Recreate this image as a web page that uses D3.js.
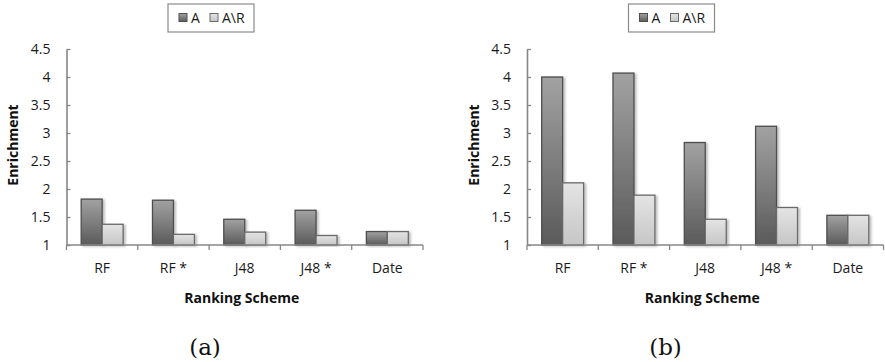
<!DOCTYPE html>
<html>
<head>
<meta charset="utf-8">
<script src="https://cdn.jsdelivr.net/npm/d3@7"></script>
<style>
  html, body { margin: 0; padding: 0; background: #fff; }
  svg { display: block; }
  .tick-label { font-family: "Open Sans", Lato, sans-serif; font-size: 14px; fill: #1a1a1a; }
  .axis-title { font-family: "Open Sans", Lato, sans-serif; font-size: 14px; font-weight: bold; fill: #111; }
  .caption { font-family: "DejaVu Serif", "Liberation Serif", serif; font-size: 23px; fill: #111; }
</style>
</head>
<body>
<svg id="chart" width="885" height="362"></svg>
<script>
// Ranking schemes on the x axis and the two series shown in each panel
const categories = ["RF", "RF *", "J48", "J48 *", "Date"];
const seriesNames = ["A", "A\\R"];

// Panel (a): enrichment values
const panelA_A  = [1.82, 1.80, 1.46, 1.62, 1.24];
const panelA_AR = [1.37, 1.19, 1.23, 1.17, 1.24];

// Panel (b): enrichment values
const panelB_A  = [4.00, 4.07, 2.83, 3.12, 1.53];
const panelB_AR = [2.11, 1.89, 1.46, 1.67, 1.53];

const yTicks = [1, 1.5, 2, 2.5, 3, 3.5, 4, 4.5];
const yTickLabels = ["1", "1.5", "2", "2.5", "3", "3.5", "4", "4.5"];
const captions = ["(a)", "(b)"];
const xTitle = "Ranking Scheme";
const yTitle = "Enrichment";

const svg = d3.select("#chart");
const defs = svg.append("defs");

// Vertical gradients for the two bar fills
const gradDark = defs.append("linearGradient").attr("id", "gDark")
  .attr("x1", 0).attr("y1", 0).attr("x2", 0).attr("y2", 1);
gradDark.append("stop").attr("offset", "0%").attr("stop-color", "#a2a2a2");
gradDark.append("stop").attr("offset", "100%").attr("stop-color", "#5a5a5a");

const gradLight = defs.append("linearGradient").attr("id", "gLight")
  .attr("x1", 0).attr("y1", 0).attr("x2", 0).attr("y2", 1);
gradLight.append("stop").attr("offset", "0%").attr("stop-color", "#e4e4e4");
gradLight.append("stop").attr("offset", "100%").attr("stop-color", "#c6c6c6");

// Soft shadow under bars
const shadow = defs.append("filter").attr("id", "barShadow")
  .attr("x", "-20%").attr("y", "-20%").attr("width", "150%").attr("height", "140%");
shadow.append("feDropShadow").attr("dx", 2).attr("dy", 1)
  .attr("stdDeviation", 1.2).attr("flood-color", "#000").attr("flood-opacity", 0.25);

const fills = { "A": "url(#gDark)", "A\\R": "url(#gLight)" };
const strokes = { "A": "#4e4e4e", "A\\R": "#6a6a6a" };
const axisColor = "#878787";

function drawPanel(offsetX, valsA, valsAR, caption) {
  const g = svg.append("g").attr("transform", `translate(${offsetX},0)`);

  const plotLeft = 66.5, plotRight = 423, plotTop = 49, plotBottom = 245;

  const x0 = d3.scaleBand().domain(categories).range([plotLeft, plotRight])
    .paddingInner(0).paddingOuter(0);
  const x1 = d3.scaleBand().domain(seriesNames).range([0, x0.bandwidth()])
    .paddingInner(0).paddingOuter(0.7);
  const y = d3.scaleLinear().domain([1, 4.5]).range([plotBottom, plotTop]);

  const rows = categories.map((c, i) => ({ cat: c, values: [
    { key: "A", v: valsA[i] },
    { key: "A\\R", v: valsAR[i] }
  ]}));

  // Bars
  const groups = g.selectAll("g.cat").data(rows).join("g")
    .attr("class", "cat")
    .attr("transform", d => `translate(${x0(d.cat)},0)`);
  groups.selectAll("rect").data(d => d.values).join("rect")
    .attr("x", d => x1(d.key))
    .attr("y", d => y(d.v))
    .attr("width", x1.bandwidth())
    .attr("height", d => y(1) - y(d.v))
    .attr("fill", d => fills[d.key])
    .attr("stroke", d => strokes[d.key])
    .attr("stroke-width", 1.3)
    .attr("filter", "url(#barShadow)");

  // Y axis: ticks point into the plot
  const yAxis = d3.axisLeft(y).tickValues(yTicks)
    .tickFormat((d, i) => yTickLabels[i])
    .tickSizeInner(-4).tickSizeOuter(0).tickPadding(16);
  const ya = g.append("g").attr("transform", `translate(${plotLeft},0)`).call(yAxis);
  ya.select(".domain").attr("stroke", axisColor).attr("stroke-width", 1.6);
  ya.selectAll(".tick line").attr("stroke", axisColor).attr("stroke-width", 1.3);
  ya.selectAll(".tick text").attr("class", "tick-label").attr("font-family", null).attr("font-size", null);

  // X axis: boundary ticks between categories
  const xa = g.append("g");
  xa.append("line")
    .attr("x1", plotLeft).attr("x2", plotRight)
    .attr("y1", plotBottom).attr("y2", plotBottom)
    .attr("stroke", axisColor).attr("stroke-width", 1.6);
  const bounds = categories.map(c => x0(c)).concat([x0(categories[categories.length - 1]) + x0.bandwidth()]);
  xa.selectAll("line.xt").data(bounds).join("line")
    .attr("class", "xt")
    .attr("x1", d => d).attr("x2", d => d)
    .attr("y1", plotBottom).attr("y2", plotBottom + 5)
    .attr("stroke", axisColor).attr("stroke-width", 1.3);
  xa.selectAll("text").data(categories).join("text")
    .attr("class", "tick-label")
    .attr("x", d => x0(d) + x0.bandwidth() / 2)
    .attr("y", 273)
    .attr("text-anchor", "middle")
    .text(d => d);

  // Axis titles
  g.append("text").attr("class", "axis-title")
    .attr("x", (plotLeft + plotRight) / 2 - 3).attr("y", 303)
    .attr("text-anchor", "middle").text(xTitle);
  g.append("text").attr("class", "axis-title")
    .attr("transform", `translate(18,145) rotate(-90)`)
    .attr("text-anchor", "middle").text(yTitle);

  // Legend
  const lg = g.append("g").attr("transform", "translate(168,4)");
  lg.append("rect").attr("x", 0).attr("y", 0).attr("width", 86).attr("height", 28)
    .attr("fill", "#fff").attr("stroke", "#8a8a8a").attr("stroke-width", 1.2);
  const items = [{ key: "A", x: 11, tx: 23 }, { key: "A\\R", x: 42, tx: 54 }];
  items.forEach(it => {
    lg.append("rect").attr("x", it.x).attr("y", 9.5).attr("width", 8).attr("height", 8)
      .attr("fill", fills[it.key]).attr("stroke", strokes[it.key]).attr("stroke-width", 1);
    lg.append("text").attr("class", "tick-label").attr("x", it.tx).attr("y", 19).text(it.key);
  });

  // Panel caption
  g.append("text").attr("class", "caption")
    .attr("x", 205).attr("y", 355).attr("text-anchor", "middle").text(caption);
}

drawPanel(0, panelA_A, panelA_AR, captions[0]);
drawPanel(460.5, panelB_A, panelB_AR, captions[1]);
</script>
</body>
</html>
